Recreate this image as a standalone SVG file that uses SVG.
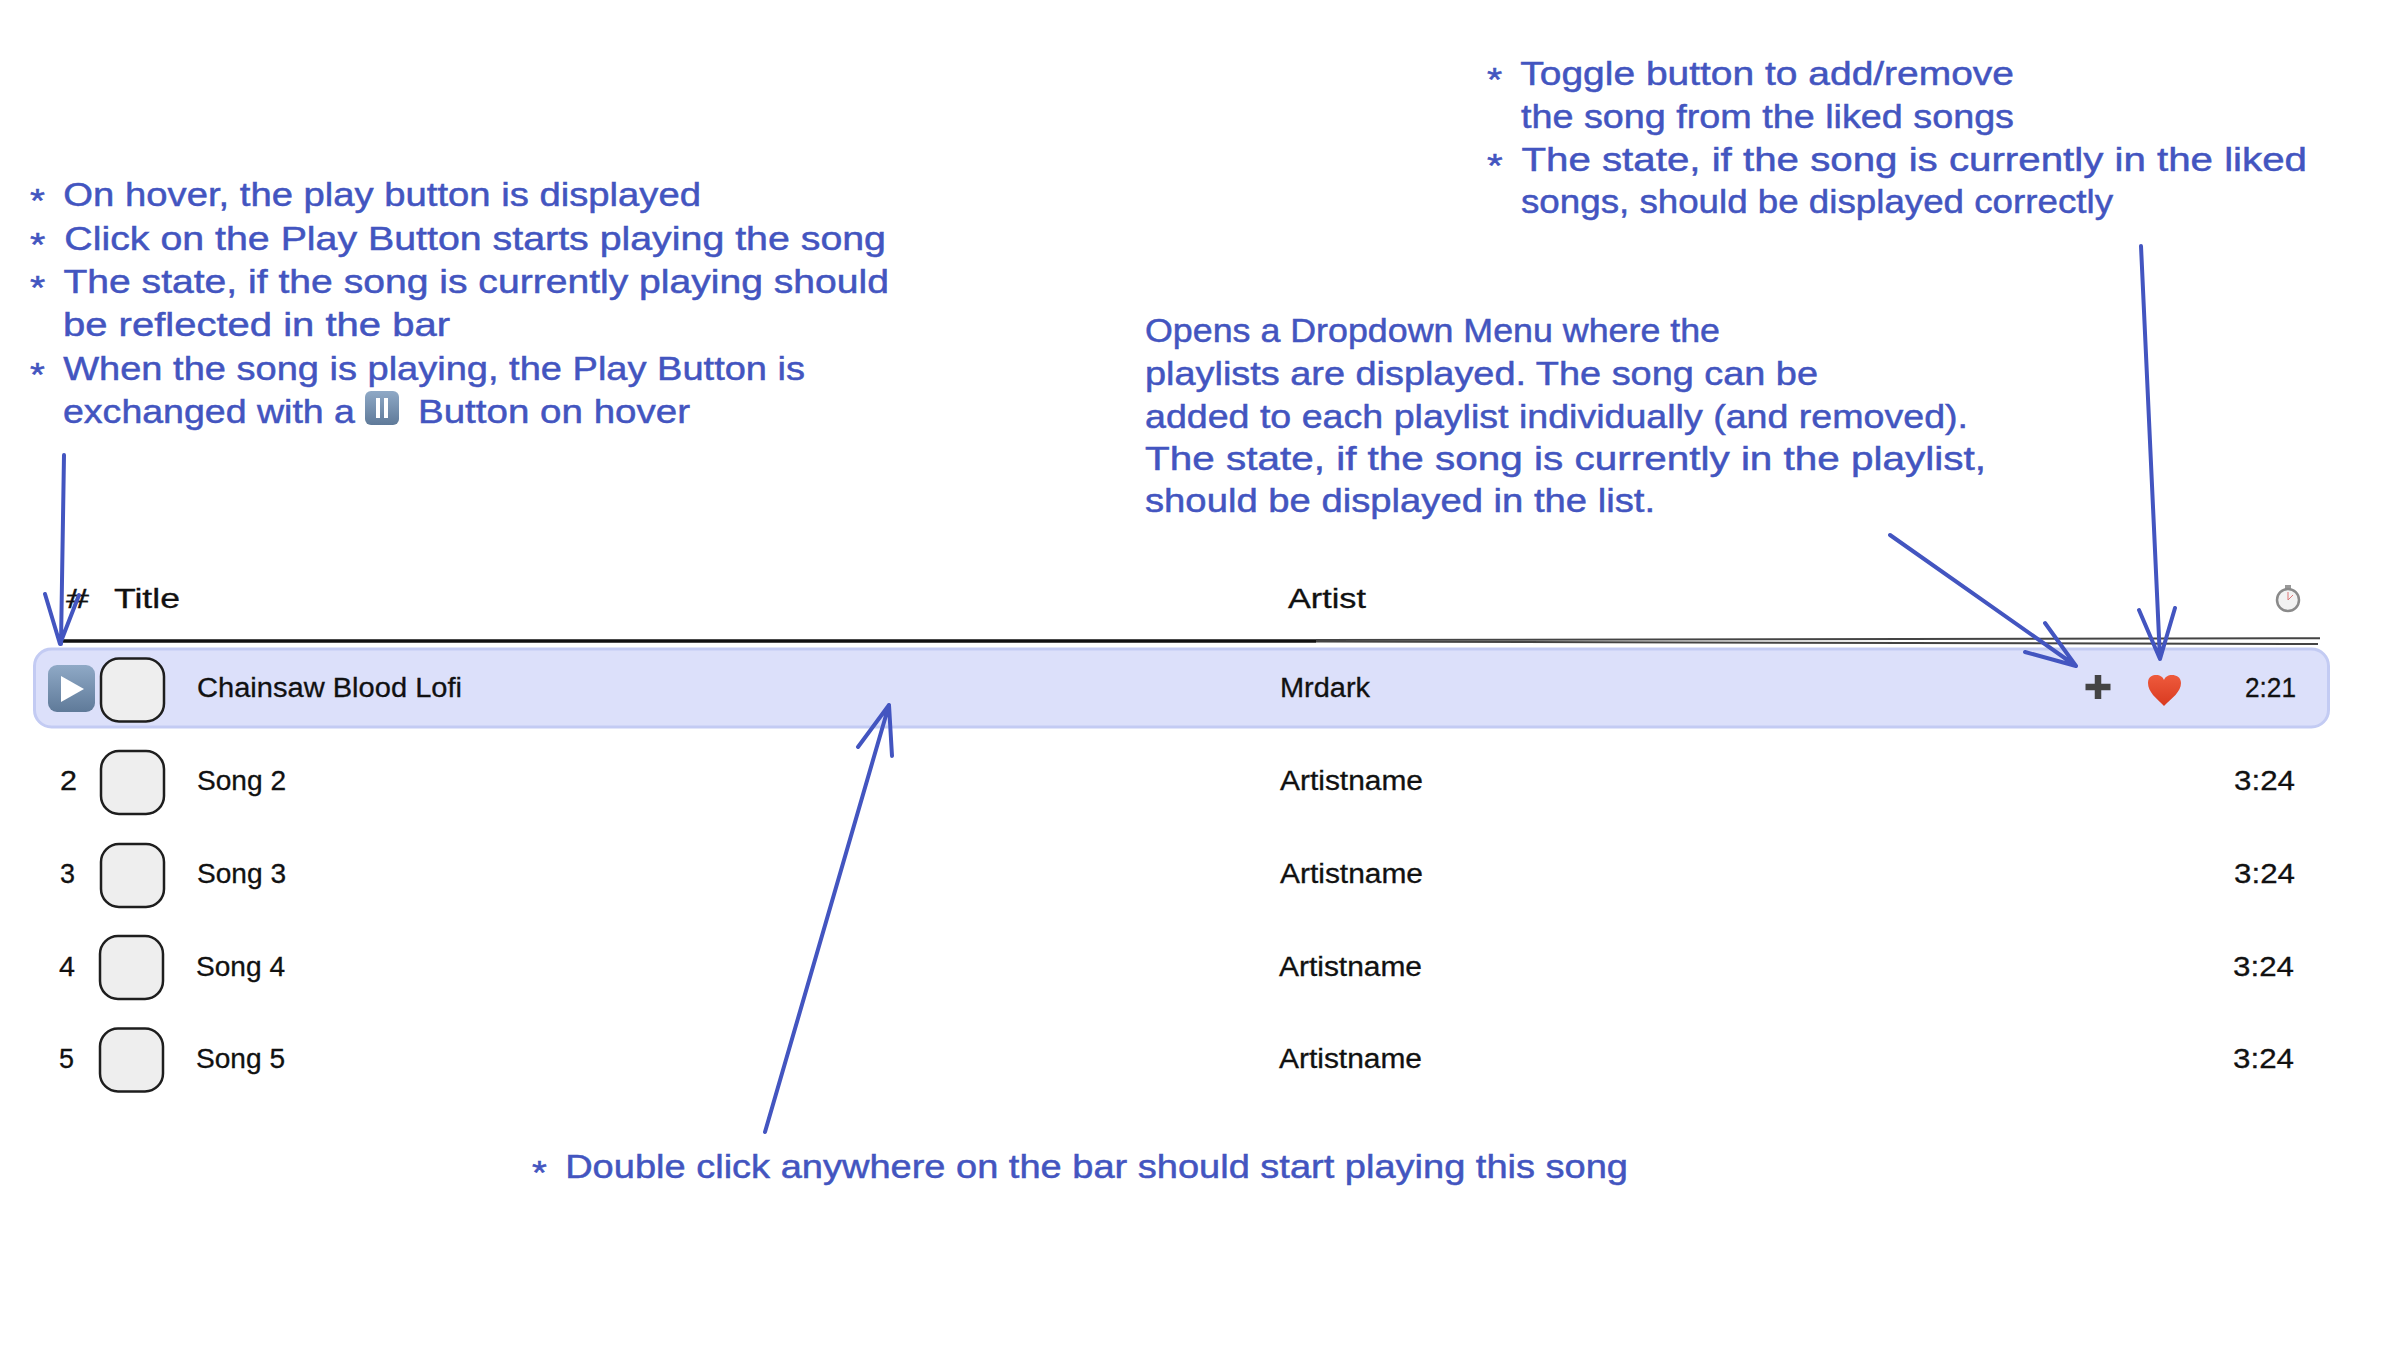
<svg xmlns="http://www.w3.org/2000/svg" width="2398" height="1356" viewBox="0 0 2398 1356">
<defs>
<style>
text{font-family:"Liberation Sans","Noto Sans",sans-serif;white-space:pre}
.n{fill:#4355c0;stroke:#4355c0;stroke-width:.5;font-size:34px}
.t{fill:#111;stroke:#111;stroke-width:.3;font-size:27px}
.art{fill:none;stroke:#4355c0;stroke-width:4;stroke-linecap:round;stroke-linejoin:round}
.sq{fill:#eee;stroke:#1e1e1e;stroke-width:2.5}
</style>
<linearGradient id="btn" x1="0" y1="0" x2="0" y2="1"><stop offset="0" stop-color="#8fa9c6"/><stop offset="1" stop-color="#5f7a99"/></linearGradient>
<linearGradient id="hrt" x1="0" y1="0" x2="0" y2="1"><stop offset="0" stop-color="#ee5a3c"/><stop offset="1" stop-color="#d93a20"/></linearGradient>
<rect id="art" class="sq" width="63" height="63" rx="18"/>
</defs>
<rect width="2398" height="1356" fill="#fff"/>

<g id="header">
<path d="M62 641H1316" stroke="#111" stroke-width="3.500" fill="none"/>
<path d="M1316 640L2320 638.300M1316 641.500L2318 644" stroke="#444" stroke-width="2" fill="none"/>
<text class="t" x="66" y="608" textLength="23" lengthAdjust="spacingAndGlyphs">#</text>
<text class="t" x="114" y="608" textLength="66" lengthAdjust="spacingAndGlyphs">Title</text>
<text class="t" x="1288" y="608" textLength="78" lengthAdjust="spacingAndGlyphs">Artist</text>
<g id="stopwatch">
<rect x="2285" y="585" width="6" height="5" fill="#999"/>
<circle cx="2288" cy="600" r="11" fill="#f2f2f2" stroke="#8a8a8a" stroke-width="2.500"/>
<path d="M2288 600V592M2288 600L2293 595" stroke="#d77" stroke-width="1" fill="none"/>
</g>
</g>

<g id="row-1">
<rect x="34.500" y="649" width="2294" height="78" rx="17" fill="#dce0fa" stroke="#c3cbf3" stroke-width="3"/>
<g id="play-button">
<rect x="48" y="665" width="47" height="47" rx="9" fill="url(#btn)"/>
<path d="M61 676L84 689L61 702Z" fill="#fff"/>
</g>
<use href="#art" x="101" y="658.500"/>
<text class="t" x="197" y="697" textLength="265" lengthAdjust="spacingAndGlyphs">Chainsaw Blood Lofi</text>
<text class="t" x="1280" y="697" textLength="90" lengthAdjust="spacingAndGlyphs">Mrdark</text>
<path id="plus" d="M2098 675V699M2085.500 687H2110.500" stroke="#444" stroke-width="6.500" fill="none"/>
<path id="heart" d="M2164 706C2156 698 2148 692 2148 683C2148 676 2153 675 2156 675C2160 675 2163 677 2164 680C2165 677 2168 675 2172 675C2176 675 2181 677 2181 683C2181 692 2172 698 2164 706Z" fill="url(#hrt)"/>
<text class="t" x="2245" y="697" textLength="51" lengthAdjust="spacingAndGlyphs">2:21</text>
</g>

<g id="row-2">
<text class="t" x="60" y="790" textLength="17" lengthAdjust="spacingAndGlyphs">2</text>
<use href="#art" x="101" y="751"/>
<text class="t" x="197" y="790" textLength="89" lengthAdjust="spacingAndGlyphs">Song 2</text>
<text class="t" x="1280" y="790" textLength="143" lengthAdjust="spacingAndGlyphs">Artistname</text>
<text class="t" x="2234" y="790" textLength="61" lengthAdjust="spacingAndGlyphs">3:24</text>
</g>
<g id="row-3">
<text class="t" x="60" y="883" textLength="15" lengthAdjust="spacingAndGlyphs">3</text>
<use href="#art" x="101" y="844"/>
<text class="t" x="197" y="883" textLength="89" lengthAdjust="spacingAndGlyphs">Song 3</text>
<text class="t" x="1280" y="883" textLength="143" lengthAdjust="spacingAndGlyphs">Artistname</text>
<text class="t" x="2234" y="883" textLength="61" lengthAdjust="spacingAndGlyphs">3:24</text>
</g>
<g id="row-4">
<text class="t" x="59" y="976" textLength="16" lengthAdjust="spacingAndGlyphs">4</text>
<use href="#art" x="100" y="936"/>
<text class="t" x="196" y="976" textLength="89" lengthAdjust="spacingAndGlyphs">Song 4</text>
<text class="t" x="1279" y="976" textLength="143" lengthAdjust="spacingAndGlyphs">Artistname</text>
<text class="t" x="2233" y="976" textLength="61" lengthAdjust="spacingAndGlyphs">3:24</text>
</g>
<g id="row-5">
<text class="t" x="59" y="1068" textLength="15" lengthAdjust="spacingAndGlyphs">5</text>
<use href="#art" x="100" y="1028.500"/>
<text class="t" x="196" y="1068" textLength="89" lengthAdjust="spacingAndGlyphs">Song 5</text>
<text class="t" x="1279" y="1068" textLength="143" lengthAdjust="spacingAndGlyphs">Artistname</text>
<text class="t" x="2233" y="1068" textLength="61" lengthAdjust="spacingAndGlyphs">3:24</text>
</g>

<g id="note-play">
<text class="n" x="30" y="206" textLength="671" lengthAdjust="spacingAndGlyphs"><tspan dy="6">*</tspan><tspan dy="-6" dx="7"> On hover, the play button is displayed</tspan></text>
<text class="n" x="30" y="250" textLength="856" lengthAdjust="spacingAndGlyphs"><tspan dy="6">*</tspan><tspan dy="-6" dx="7"> Click on the Play Button starts playing the song</tspan></text>
<text class="n" x="30" y="293" textLength="859" lengthAdjust="spacingAndGlyphs"><tspan dy="6">*</tspan><tspan dy="-6" dx="7"> The state, if the song is currently playing should</tspan></text>
<text class="n" x="63" y="336" textLength="387" lengthAdjust="spacingAndGlyphs">be reflected in the bar</text>
<text class="n" x="30" y="380" textLength="775" lengthAdjust="spacingAndGlyphs"><tspan dy="6">*</tspan><tspan dy="-6" dx="7"> When the song is playing, the Play Button is</tspan></text>
<text class="n" x="63" y="423" textLength="292" lengthAdjust="spacingAndGlyphs">exchanged with a</text>
<g id="pause-icon">
<rect x="365" y="391" width="34" height="34" rx="6" fill="url(#btn)"/>
<path d="M378 398V418M386 398V418" stroke="#fff" stroke-width="4" fill="none"/>
</g>
<text class="n" x="418" y="423" textLength="272" lengthAdjust="spacingAndGlyphs">Button on hover</text>
</g>

<g id="note-toggle">
<text class="n" x="1487" y="85" textLength="527" lengthAdjust="spacingAndGlyphs"><tspan dy="6">*</tspan><tspan dy="-6" dx="7"> Toggle button to add/remove</tspan></text>
<text class="n" x="1521" y="128" textLength="493" lengthAdjust="spacingAndGlyphs">the song from the liked songs</text>
<text class="n" x="1487" y="171" textLength="820" lengthAdjust="spacingAndGlyphs"><tspan dy="6">*</tspan><tspan dy="-6" dx="7"> The state, if the song is currently in the liked</tspan></text>
<text class="n" x="1521" y="213" textLength="592" lengthAdjust="spacingAndGlyphs">songs, should be displayed correctly</text>
</g>

<g id="note-dropdown">
<text class="n" x="1145" y="342" textLength="575" lengthAdjust="spacingAndGlyphs">Opens a Dropdown Menu where the</text>
<text class="n" x="1145" y="385" textLength="673" lengthAdjust="spacingAndGlyphs">playlists are displayed. The song can be</text>
<text class="n" x="1145" y="428" textLength="823" lengthAdjust="spacingAndGlyphs">added to each playlist individually (and removed).</text>
<text class="n" x="1145" y="470" textLength="841" lengthAdjust="spacingAndGlyphs">The state, if the song is currently in the playlist,</text>
<text class="n" x="1145" y="512" textLength="510" lengthAdjust="spacingAndGlyphs">should be displayed in the list.</text>
</g>

<g id="note-doubleclick">
<text class="n" x="532" y="1178" textLength="1096" lengthAdjust="spacingAndGlyphs"><tspan dy="6">*</tspan><tspan dy="-6" dx="7"> Double click anywhere on the bar should start playing this song</tspan></text>
</g>

<g id="connectors">
<path class="art" d="M64 455L61 644M45 594L60 644L79 595"/>
<path class="art" d="M1890 535L2076 666M2045 623L2076 666L2025 652"/>
<path class="art" d="M2141 246L2160 659M2139 610L2160 659L2175 608"/>
<path class="art" d="M765 1132L889 705M858 747L889 705L892 756"/>
</g>
</svg>
